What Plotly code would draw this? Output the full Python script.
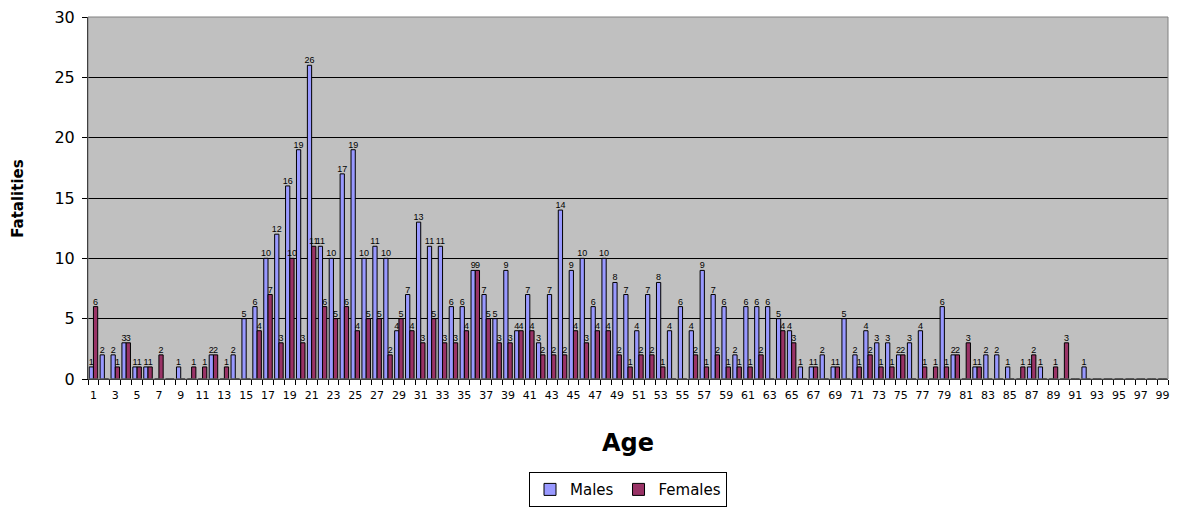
import plotly.graph_objects as go

# Ages 1..99
ages = list(range(1, 100))

males = [1, 2, 2, 3, 1, 1, 0, 0, 1, 0,
         0, 2, 0, 2, 5, 6, 10, 12, 16, 19,
         26, 11, 10, 17, 19, 10, 11, 10, 4, 7,
         13, 11, 11, 6, 6, 9, 7, 5, 9, 4,
         7, 3, 7, 14, 9, 10, 6, 10, 8, 7,
         4, 7, 8, 4, 6, 4, 9, 7, 6, 2,
         6, 6, 6, 5, 4, 1, 1, 2, 1, 5,
         2, 4, 3, 3, 2, 3, 4, 0, 6, 2,
         0, 1, 2, 2, 1, 0, 1, 1, 0, 0,
         0, 1, 0, 0, 0, 0, 0, 0, 0]

females = [6, 0, 1, 3, 1, 1, 2, 0, 0, 1,
           1, 2, 1, 0, 0, 4, 7, 3, 10, 3,
           11, 6, 5, 6, 4, 5, 5, 2, 5, 4,
           3, 5, 3, 3, 4, 9, 5, 3, 3, 4,
           4, 2, 2, 2, 4, 3, 4, 4, 2, 1,
           2, 2, 1, 0, 0, 2, 1, 2, 1, 1,
           1, 2, 0, 4, 3, 0, 1, 0, 1, 0,
           1, 2, 1, 1, 2, 0, 1, 1, 1, 2,
           3, 1, 0, 0, 0, 1, 2, 0, 1, 3,
           0, 0, 0, 0, 0, 0, 0, 0, 0]

tick_ages = list(range(1, 100, 2))
tick_labels = [str(a) for a in tick_ages]

FONT = "DejaVu Sans"
LABEL_FONT = "Liberation Sans"


def value_labels(values):
    return [str(v) if v else "" for v in values]


fig = go.Figure()
fig.add_trace(go.Bar(
    x=ages, y=males, name="Males",
    marker=dict(color="#9999FF", line=dict(color="black", width=1)),
    text=value_labels(males), textposition="outside",
    textfont=dict(family=LABEL_FONT, size=9, color="black"),
    constraintext="none", cliponaxis=False,
))
fig.add_trace(go.Bar(
    x=ages, y=females, name="Females",
    marker=dict(color="#993366", line=dict(color="black", width=1)),
    text=value_labels(females), textposition="outside",
    textfont=dict(family=LABEL_FONT, size=9, color="black"),
    constraintext="none", cliponaxis=False,
))

fig.update_layout(
    width=1183, height=508,
    margin=dict(l=88, r=15, t=17, b=129, autoexpand=False),
    paper_bgcolor="white",
    plot_bgcolor="#C0C0C0",
    barmode="group",
    bargap=0.22,
    bargroupgap=0,
    font=dict(family=FONT, color="black"),
    showlegend=True,
    legend=dict(
        orientation="h",
        x=0.5, xanchor="center",
        y=-0.354, yanchor="bottom",
        bordercolor="black", borderwidth=1,
        bgcolor="white",
        font=dict(family=FONT, size=15, color="black"),
        itemwidth=30,
        tracegroupgap=0,
    ),
    xaxis=dict(
        range=[0.5, 99.5],
        tickmode="array",
        tickvals=tick_ages,
        ticktext=tick_labels,
        tickfont=dict(family=FONT, size=11, color="black"),
        ticks="",
        ticklabelstandoff=6,
        showgrid=False,
        zeroline=False,
        showline=True, linecolor="black", linewidth=1,
        minor=dict(ticks="outside", tick0=0.5, dtick=1, ticklen=5,
                   tickcolor="black", showgrid=False),
    ),
    yaxis=dict(
        range=[0, 30],
        dtick=5,
        tickfont=dict(family=FONT, size=16, color="black"),
        ticks="outside", ticklen=5, tickcolor="black",
        showgrid=True, gridcolor="black", gridwidth=1,
        zeroline=False,
        showline=True, linecolor="black", linewidth=1,
        ticklabelstandoff=4,
    ),
    annotations=[
        dict(text="<b>Age</b>", xref="paper", yref="paper",
             x=0.5, y=-0.177, xanchor="center", yanchor="middle",
             showarrow=False, font=dict(family=FONT, size=24, color="black")),
        dict(text="<b>Fatalities</b>", xref="paper", yref="paper",
             x=-0.065, y=0.5, xanchor="center", yanchor="middle",
             textangle=-90, showarrow=False,
             font=dict(family=FONT, size=15, color="black")),
    ],
    shapes=[
        dict(type="rect", xref="paper", yref="paper", x0=0, x1=1, y0=0, y1=1,
             line=dict(color="#808080", width=1), fillcolor="rgba(0,0,0,0)",
             layer="above"),
    ],
)

fig.write_html("out.html")
